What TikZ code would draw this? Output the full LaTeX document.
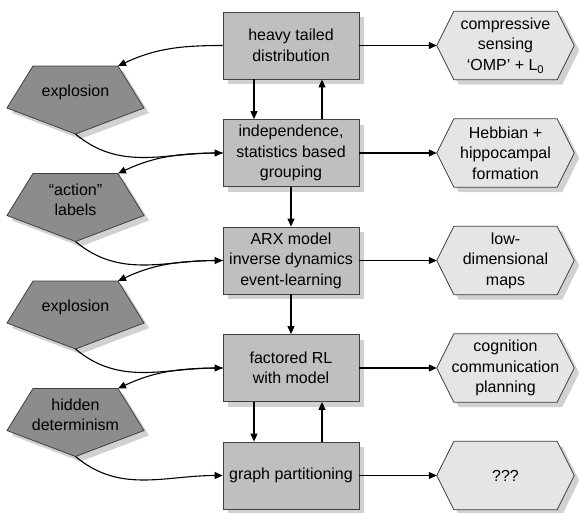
\documentclass[tikz,border=0pt]{standalone}
\usepackage{fontspec}
\setmainfont{Liberation Sans}
\usepackage{tikz}
\usetikzlibrary{
  arrows.meta,
  calc,
  backgrounds,
  shadows,
}

\begin{document}
\begin{tikzpicture}[
  x=1pt, y=-1pt,
  font=\fontsize{16}{20.5}\selectfont,
  every node/.style={align=center},
  box/.style={draw=black!75, fill=black!25, line width=0.8pt,
    minimum width=136pt, minimum height=67pt, inner sep=0pt,
    drop shadow={shadow xshift=5pt, shadow yshift=-5pt, fill=black!18, opacity=1}},
  hexa/.style={minimum width=137pt, minimum height=68pt, inner sep=0pt},
  pent/.style={inner sep=0pt},
  outline/.style={draw=black!75, line width=0.8pt},
  shadowfill/.style={fill=black!18},
  flow/.style={-{Triangle[length=8pt,width=7pt]}, line width=1.1pt},
]

\useasboundingbox (0,0) rectangle (579,512);

% main column
\node[box] (heavy) at (291,45.5) {heavy tailed\\distribution};
\node[box] (indep) at (291,153) {independence,\\statistics based\\grouping};
\node[box] (arx) at (291,260.5) {ARX model\\inverse dynamics\\event-learning};
\node[box] (frl) at (291,368) {factored RL\\with model};
\node[box] (graph) at (291,475.5) {graph partitioning};

% outcomes
\node[hexa] (cs) at (505.5,45.5) {compressive\\sensing\\`OMP' + L\textsubscript{0}};
\node[hexa] (hebb) at (505.5,153) {Hebbian +\\hippocampal\\formation};
\node[hexa] (lowdim) at (505.5,260.5) {low-\\dimensional\\maps};
\node[hexa] (cogn) at (505.5,368) {cognition\\communication\\planning};
\node[hexa] (unknown) at (505.5,475.5) {???};

% pitfalls
\node[pent] (expA) at (75.5,92.5) {explosion};
\node[pent] (action) at (75.5,200) {``action''\\labels};
\node[pent] (expB) at (75.5,307.5) {explosion};
\node[pent] (hidden) at (75.5,415) {hidden\\determinism};

\foreach \p in {expA,action,expB,hidden}{
  \coordinate (\p-tip) at ($(\p)+(42.5,-26.5)$);
  \coordinate (\p-foot) at ($(\p)+(0,41.5)$);
}

\begin{scope}[on background layer]
\foreach \h in {cs,hebb,lowdim,cogn,unknown}{
  \fill[shadowfill] ([shift={(5,5)}]\h.west) -- ([shift={(22,5)}]\h.north west)
    -- ([shift={(-12,5)}]\h.north east) -- ([shift={(5,5)}]\h.east)
    -- ([shift={(-12,5)}]\h.south east) -- ([shift={(22,5)}]\h.south west) -- cycle;
  \filldraw[outline, fill=black!10] (\h.west) -- ([xshift=17pt]\h.north west)
    -- ([xshift=-17pt]\h.north east) -- (\h.east)
    -- ([xshift=-17pt]\h.south east) -- ([xshift=17pt]\h.south west) -- cycle;
}
\foreach \p in {expA,action,expB,hidden}{
  \fill[shadowfill] ($(\p)+(-37.5,-21.5)$) -- ($(\p)+(47.5,-21.5)$)
    -- ($(\p)+(73.5,20.5)$) -- ($(\p)+(5,46.5)$) -- ($(\p)+(-63.5,20.5)$) -- cycle;
  \filldraw[outline, fill=black!45] ($(\p)+(-42.5,-26.5)$) -- (\p-tip)
    -- ($(\p)+(68.5,15.5)$) -- (\p-foot) -- ($(\p)+(-68.5,15.5)$) -- cycle;
}
\end{scope}

% down and up between boxes
\draw[flow] ([xshift=-37pt]heavy.south) -- ([xshift=-37pt]indep.north);
\draw[flow] ([xshift=31pt]indep.north) -- ([xshift=31pt]heavy.south);
\draw[flow] (indep) -- (arx);
\draw[flow] (arx) -- (frl);
\draw[flow] ([xshift=-37pt]frl.south) -- ([xshift=-37pt]graph.north);
\draw[flow] ([xshift=31pt]graph.north) -- ([xshift=31pt]frl.south);

% to the right
\foreach \b/\h in {heavy/cs,indep/hebb,arx/lowdim,frl/cogn,graph/unknown}
  \draw[flow] (\b) -- (\h);

% round the pitfalls
\draw[flow] (heavy.west) to[out=180,in=25] (expA-tip);
\draw[flow] (expA-foot) to[out=-40,in=180] (indep.west);
\draw[flow] (indep.west) to[out=180,in=25] (action-tip);
\draw[flow] (action-foot) to[out=-40,in=180] (arx.west);
\draw[flow] (arx.west) to[out=180,in=25] (expB-tip);
\draw[flow] (expB-foot) to[out=-40,in=180] (frl.west);
\draw[flow] (frl.west) to[out=180,in=25] (hidden-tip);
\draw[flow] (hidden-foot) to[out=-40,in=180] (graph.west);

\end{tikzpicture}
\end{document}
